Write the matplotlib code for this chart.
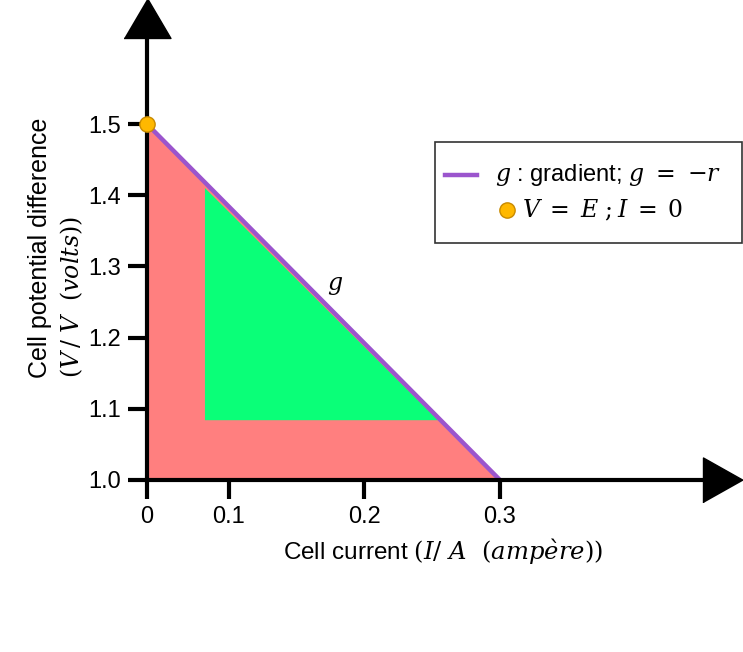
import numpy as np
import matplotlib
matplotlib.use("Agg")
from matplotlib import pyplot as plt
from matplotlib.lines import Line2D
from matplotlib.patches import Rectangle

plt.rcParams['font.family'] = ['Liberation Sans', 'DejaVu Sans']
plt.rcParams['mathtext.fontset'] = 'dejavuserif'

# cell V-I line (E = 1.5 V, short circuit at 0.3 A)
current = [0.0, 0.3]
voltage = [1.5, 1.0]

# shaded regions
red_I = [0.0, 0.0, 0.3]
red_V = [1.0, 1.5, 1.0]
green_I = [0.0707, 0.0707, 0.2542]
green_V = [1.084, 1.41, 1.084]

xticks = [0, 0.1, 0.2, 0.3]
xticklabels = ["0", "0.1", "0.2", "0.3"]
yticks = [1.0, 1.1, 1.2, 1.3, 1.4, 1.5]
yticklabels = ["1.0", "1.1", "1.2", "1.3", "1.4", "1.5"]

W, H = 743, 652


def fwd(x):
    x = np.asarray(x, dtype=float)
    return np.where(x < 0.1, 0.605 * x, x - 0.0395)


def inv(t):
    t = np.asarray(t, dtype=float)
    return np.where(t < 0.0605, t / 0.605, t + 0.0395)


def fx(px):
    return px / W


def fy(py):
    return 1 - py / H


fig = plt.figure(figsize=(W / 100, H / 100), dpi=100)
ax = fig.add_axes([fx(147), fy(480), (723 - 147) / W, (480 - 18) / H])
ax.set_xscale('function', functions=(fwd, inv))

ax.fill(red_I, red_V, color="#FF7F7F", lw=0, zorder=1)
ax.fill(green_I, green_V, color="#0AFF78", lw=0, zorder=2)
ax.plot(current, voltage, color="#9B55CD", lw=3.2, solid_capstyle='butt', zorder=3)
ax.plot([current[0]], [voltage[0]], 'o', ms=11, mfc="#FFB800", mec="#C88A00",
        mew=1, clip_on=False, zorder=6)
ax.text(0.178, 1.272, "$g$", fontsize=17, ha='center', va='center')

ax.set_xlim(0, 0.4646)
ax.set_ylim(1.0, 1.6489)
ax.set_xticks(xticks)
ax.set_xticklabels(xticklabels)
ax.set_yticks(yticks)
ax.set_yticklabels(yticklabels)
ax.tick_params(width=3, length=14, pad=5, labelsize=17)

for s in ['top', 'right']:
    ax.spines[s].set_visible(False)
for s in ['left', 'bottom']:
    ax.spines[s].set_linewidth(3)
    ax.spines[s].set_zorder(5)

# arrow heads
a = 40 / 45
ax.plot(1, 0, marker=[(-a, -1), (-a, 1), (a, 0)], ms=32.4, color='k',
        transform=ax.transAxes, clip_on=False, zorder=7)
b = 40 / 47
ax.plot(0, 1, marker=[(-1, -b), (1, -b), (0, b)], ms=33.8, color='k',
        transform=ax.transAxes, clip_on=False, zorder=7)

# axis labels
fig.text(fx(443), fy(552), r"Cell current $(I/\ A\ \ (amp\grave{e}re))$",
         fontsize=17.5, ha='center', va='center')
fig.text(fx(40), fy(378), "Cell potential difference", fontsize=18,
         rotation=90, ha='center', va='bottom')
fig.text(fx(72), fy(378), r"$(V\,/\ V\ \ (volts))$", fontsize=17,
         rotation=90, ha='center', va='bottom')

# legend box
fig.patches.append(Rectangle((fx(435), fy(243)), (742 - 435) / W, (243 - 142) / H,
                             transform=fig.transFigure, fill=True, fc='white',
                             ec='#333333', lw=1.2, zorder=8))
fig.lines.append(Line2D([fx(445), fx(477)], [fy(175), fy(175)], color="#9B55CD",
                        lw=3.2, transform=fig.transFigure, zorder=9))
fig.text(fx(495), fy(175), r"$g$ : gradient; $g\ =\ {-r}$", fontsize=17,
         va='center', ha='left', zorder=9)
fig.lines.append(Line2D([fx(507)], [fy(210)], marker='o', ms=11, mfc="#FFB800",
                        mec="#C88A00", mew=1, transform=fig.transFigure, zorder=9))
fig.text(fx(522), fy(210), r"$V\;=\;E\ ;I\;=\;0$", fontsize=17,
         va='center', ha='left', zorder=9)

fig.savefig("out.png", dpi=100)
